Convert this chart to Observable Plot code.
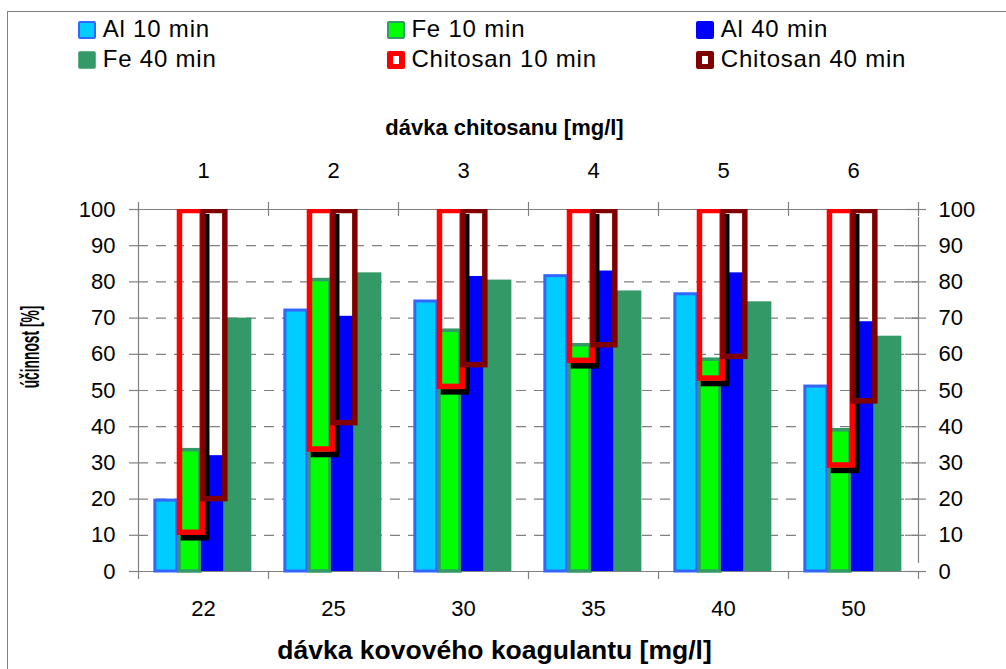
<!DOCTYPE html>
<html>
<head>
<meta charset="utf-8">
<script src="https://cdn.jsdelivr.net/npm/d3@7"></script>
<script src="https://cdn.jsdelivr.net/npm/@observablehq/plot@0.6"></script>
<style>
  html, body { margin: 0; padding: 0; background: #fff; overflow: hidden; }
  #wrap { position: relative; width: 1006px; height: 669px; font-family: "Liberation Sans", Arial, sans-serif; }
  #wrap svg { position: absolute; left: 0; top: 0; }
  .frame { position: absolute; left: 7px; top: 11px; width: 1100px; height: 800px; border-left: 1.5px solid #808080; border-top: 1.5px solid #808080; pointer-events: none; }
  .lg-sw { position: absolute; box-sizing: border-box; width: 18px; height: 18px; border-radius: 2px; }
  .lg-tx { position: absolute; font-size: 24px; line-height: 24px; letter-spacing: 0.8px; white-space: nowrap; color: #000; }
  .ytitle { position: absolute; left: 30px; top: 347px; font-size: 26px; font-weight: bold; white-space: nowrap; line-height: 26px;
            transform: translate(-50%, -50%) rotate(-90deg) scaleX(0.53); }
</style>
</head>
<body>
<div id="wrap"></div>
<script>
// ---- data ----
const metalDose = ["22", "25", "30", "35", "40", "50"];
const chitosanDose = ["1", "2", "3", "4", "5", "6"];
const yTicks = [0, 10, 20, 30, 40, 50, 60, 70, 80, 90, 100];
const seriesNames = ["Al 10 min", "Fe 10 min", "Al 40 min", "Fe 40 min", "Chitosan 10 min", "Chitosan 40 min"];
const al10 = [20, 72.5, 75, 82, 77, 51.5];
const fe10 = [34, 81, 67, 63, 59, 39.5];
const al40 = [32, 70.5, 81.5, 83, 82.5, 69];
const fe40 = [70, 82.5, 80.5, 77.5, 74.5, 65];
const chitosan10 = [10.7, 33.7, 51, 58.2, 53.3, 29.3];
const chitosan40 = [20, 41, 57, 62.5, 59.3, 47];
const yTitle = "účinnost [%]";
const topTitle = "dávka chitosanu [mg/l]";
const bottomTitle = "dávka kovového koagulantu [mg/l]";

// ---- table ----
const rows = metalDose.map((d, i) => ({
  i, metal: d, chit: chitosanDose[i],
  al10: al10[i], fe10: fe10[i], al40: al40[i], fe40: fe40[i],
  c10: chitosan10[i], c40: chitosan40[i]
}));
const bounds = d3.range(metalDose.length + 1);

// slot positions inside each category band (fractions of band)
const slot = {
  al10: [0.118, 0.31], fe10: [0.302, 0.49], al40: [0.485, 0.66], fe40: [0.656, 0.872],
  c10: [0.319, 0.494], c40: [0.5, 0.668]
};
const colors = {
  al10: "#00CCFF", al10b: "#3366FF", fe10: "#00FF00", fe10b: "#339966",
  al40: "#0000FF", fe40: "#339966", c10: "#FF0000", c40: "#800000", grid: "#808080"
};

function bar(key, fill, stroke, sw) {
  return Plot.rect(rows, {
    x1: d => d.i + slot[key][0], x2: d => d.i + slot[key][1],
    y1: 0, y2: d => d[key],
    fill, stroke: stroke || "none", strokeWidth: sw || 0,
    insetLeft: (sw || 0) / 2, insetRight: (sw || 0) / 2, insetTop: (sw || 0) / 2
  });
}
function box(key, stroke) {
  return Plot.rect(rows, {
    x1: d => d.i + slot[key][0], x2: d => d.i + slot[key][1],
    y1: d => d[key], y2: 100, insetTop: 1.5,
    fill: "none", stroke, strokeWidth: 5.5, clip: true
  });
}

const chart = Plot.plot({
  width: 1006, height: 669,
  marginLeft: 138, marginRight: 88, marginTop: 209, marginBottom: 98,
  x: { type: "linear", domain: [0, 6], axis: null },
  y: { domain: [0, 100], axis: null },
  style: { fontFamily: "\"Liberation Sans\", Arial, sans-serif", fontSize: "22px", color: "#000", background: "transparent", overflow: "visible" },
  marks: [
    // dashed gridlines
    Plot.ruleY(yTicks.filter(t => t > 0 && t < 100), { stroke: colors.grid, strokeWidth: 1.2, strokeDasharray: "10,8" }),
    // frame lines
    Plot.ruleY([0, 100], { stroke: colors.grid, strokeWidth: 1.2 }),
    Plot.ruleX([0], { y1: 0, y2: 100, stroke: colors.grid, strokeWidth: 1.2 }),
    Plot.ruleX([6], { y1: 0, y2: 100, insetTop: -8, insetBottom: -8, stroke: colors.grid, strokeWidth: 1.2 }),
    // left ticks (outward), right ticks (crossing)
    Plot.ruleY(yTicks, { x1: 0, x2: 0, insetLeft: -9, stroke: colors.grid, strokeWidth: 1.2 }),
    Plot.ruleY(yTicks, { x1: 6, x2: 6, insetLeft: -13, insetRight: -8, stroke: colors.grid, strokeWidth: 1.2 }),
    // x ticks at band boundaries
    Plot.ruleX(bounds, { y1: 0, y2: 0, insetBottom: -8, stroke: colors.grid, strokeWidth: 1.2 }),
    Plot.ruleX(bounds, { y1: 100, y2: 100, insetTop: -7, insetBottom: -7, stroke: colors.grid, strokeWidth: 1.2 }),

    // bars
    bar("al10", colors.al10, colors.al10b, 3),
    bar("fe10", colors.fe10, colors.fe10b, 3.5),
    bar("al40", colors.al40),
    bar("fe40", colors.fe40),

    // shadow of Chitosan 10 min boxes
    Plot.ruleX(rows, { x: d => d.i + slot.c10[1], y1: d => d.c10, y2: 100, dx: 4, dy: 5, stroke: "#000", strokeWidth: 5.5, clip: true }),
    Plot.ruleY(rows, { y: d => d.c10, x1: d => d.i + slot.c10[0], x2: d => d.i + slot.c10[1], dx: 4, dy: 5, stroke: "#000", strokeWidth: 5.5, strokeLinecap: "square" }),

    // chitosan floating boxes
    box("c10", colors.c10),
    box("c40", colors.c40),

    // tick labels
    Plot.text(yTicks, { x: 0, y: d => d, dx: -23, text: d => String(d), textAnchor: "end", lineAnchor: "middle", fontSize: 22 }),
    Plot.text(yTicks, { x: 6, y: d => d, dx: 20, text: d => String(d), textAnchor: "start", lineAnchor: "middle", fontSize: 22 }),
    Plot.text(rows, { x: d => d.i + 0.5, y: 0, dy: 44, text: "metal", lineAnchor: "bottom", fontSize: 22 }),
    Plot.text(rows, { x: d => d.i + 0.5, y: 100, dy: -32, text: "chit", lineAnchor: "bottom", fontSize: 22 }),

    // axis titles
    Plot.text([topTitle], { frameAnchor: "top", dx: -24, dy: -75, lineAnchor: "bottom", fontSize: 22, fontWeight: "bold" }),
    Plot.text([bottomTitle], { frameAnchor: "bottom", dx: -34, dy: 87, lineAnchor: "bottom", fontSize: 26.5, fontWeight: "bold" })
  ]
});

const wrap = document.getElementById("wrap");
wrap.appendChild(chart);

// outer chart-area border
const fr = document.createElement("div");
fr.className = "frame";
wrap.appendChild(fr);

// y title (condensed, rotated)
const yt = document.createElement("div");
yt.className = "ytitle";
yt.textContent = yTitle;
wrap.appendChild(yt);

// legend
const swatchStyles = [
  { background: colors.al10, border: "2.5px solid " + colors.al10b },
  { background: colors.fe10, border: "2.5px solid " + colors.fe10b },
  { background: colors.al40, border: "2.5px solid " + colors.al40 },
  { background: colors.fe40, border: "1px solid #5fb38a" },
  { background: "#fff", borderStyle: "solid", borderColor: colors.c10, borderWidth: "5px 6px" },
  { background: "#fff", borderStyle: "solid", borderColor: colors.c40, borderWidth: "5px 6px" }
];
const legCols = [78.3, 387, 696.4];
const legRows = [20.7, 50.5];
seriesNames.forEach((name, k) => {
  const c = k % 3, r = Math.floor(k / 3);
  const sw = document.createElement("div");
  sw.className = "lg-sw";
  sw.style.left = legCols[c] + "px";
  sw.style.top = legRows[r] + "px";
  Object.assign(sw.style, swatchStyles[k]);
  wrap.appendChild(sw);
  const tx = document.createElement("div");
  tx.className = "lg-tx";
  tx.style.left = (legCols[c] + 24.4) + "px";
  tx.style.top = (legRows[r] - 3.3) + "px";
  tx.textContent = name;
  wrap.appendChild(tx);
});
</script>
</body>
</html>
